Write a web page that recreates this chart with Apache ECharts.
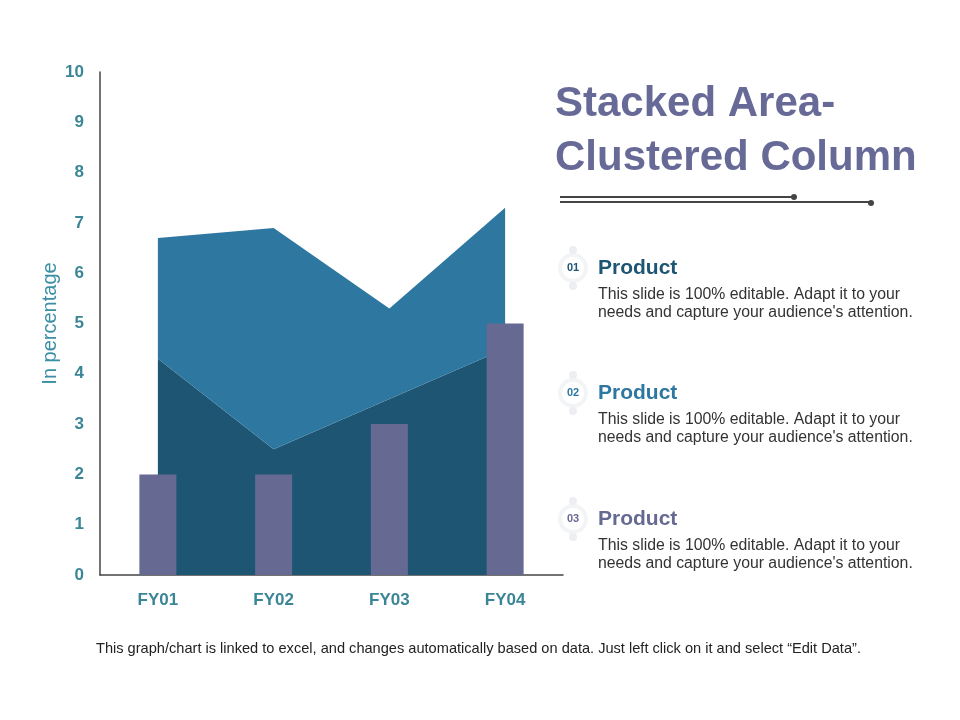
<!DOCTYPE html>
<html>
<head>
<meta charset="utf-8">
<script src="https://cdn.jsdelivr.net/npm/echarts@6/dist/echarts.min.js"></script>
<style>
  html, body { margin: 0; padding: 0; background: #fff; }
  #main { width: 960px; height: 720px; }
</style>
</head>
<body>
<div id="main"></div>
<script>
var categories = ['FY01', 'FY02', 'FY03', 'FY04'];
var areaBottom = [4.3, 2.5, 3.5, 4.5];
var areaTop = [2.4, 4.4, 1.8, 2.8];
var columns = [2, 2, 3, 5];

var items = [
  { num: '01', color: '#1f5574', y: 268 },
  { num: '02', color: '#2e77a0', y: 393 },
  { num: '03', color: '#666a93', y: 519 }
];
var itemText = "This slide is 100% editable. Adapt it to your\nneeds and capture your audience's attention.";

var chart = echarts.init(document.getElementById('main'));

var graphics = [
  {
    type: 'text', left: 555, top: 77,
    style: { text: 'Stacked Area-\nClustered Column', fill: '#676a96', font: 'bold 42px "Liberation Sans", Arial', lineHeight: 54 }
  },
  { type: 'line', shape: { x1: 560, y1: 197, x2: 794, y2: 197 }, style: { stroke: '#444', lineWidth: 2 } },
  { type: 'circle', shape: { cx: 794, cy: 197, r: 3 }, style: { fill: '#444' } },
  { type: 'line', shape: { x1: 560, y1: 202, x2: 871, y2: 202 }, style: { stroke: '#444', lineWidth: 2 } },
  { type: 'circle', shape: { cx: 871, cy: 203, r: 3 }, style: { fill: '#444' } },
  {
    type: 'text', left: 96, top: 641,
    style: { text: 'This graph/chart is linked to excel, and changes automatically based on data. Just left click on it and select \u201cEdit Data\u201d.', fill: '#222', font: '14.6px "Liberation Sans", Arial' }
  }
];

items.forEach(function (it) {
  graphics.push(
    { type: 'circle', shape: { cx: 573, cy: it.y, r: 15 }, style: { fill: '#f3f4f6' } },
    { type: 'circle', shape: { cx: 573, cy: it.y, r: 11 }, style: { fill: '#fff' } },
    { type: 'circle', shape: { cx: 573, cy: it.y - 18, r: 4 }, style: { fill: '#eceef1' } },
    { type: 'circle', shape: { cx: 573, cy: it.y + 18, r: 4 }, style: { fill: '#eceef1' } },
    {
      type: 'text', x: 573, y: it.y,
      style: { text: it.num, fill: it.color, font: 'bold 11px "Liberation Sans"', align: 'center', verticalAlign: 'middle' }
    },
    {
      type: 'text', x: 598, y: it.y,
      style: { text: 'Product', fill: it.color, font: 'bold 21px "Liberation Sans", Arial', verticalAlign: 'middle' }
    },
    {
      type: 'text', x: 598, y: it.y + 18,
      style: { text: itemText, fill: '#333', font: '15.8px "Liberation Sans", Arial', lineHeight: 18 }
    }
  );
});

var option = {
  animation: false,
  grid: { left: 100, right: 397, top: 72, bottom: 145 },
  xAxis: {
    type: 'category',
    data: categories,
    axisLine: { lineStyle: { color: '#444', width: 1.5 } },
    axisTick: { show: false },
    axisLabel: { color: '#3b8696', fontWeight: 'bold', fontSize: 17, margin: 17, fontFamily: 'Liberation Sans' }
  },
  yAxis: {
    type: 'value',
    min: 0,
    max: 10,
    interval: 1,
    name: 'In percentage',
    nameLocation: 'middle',
    nameGap: 40,
    nameTextStyle: { color: '#3a8fa3', fontSize: 20, fontFamily: 'Liberation Sans' },
    axisLine: { show: true, lineStyle: { color: '#444', width: 1.5 } },
    axisTick: { show: false },
    splitLine: { show: false },
    axisLabel: { color: '#3b8696', fontWeight: 'bold', fontSize: 17, margin: 16, fontFamily: 'Liberation Sans' }
  },
  series: [
    {
      type: 'line', stack: 'area', data: areaBottom, symbol: 'none',
      lineStyle: { width: 0 }, areaStyle: { color: '#1e5573', opacity: 1 }, z: 1
    },
    {
      type: 'line', stack: 'area', data: areaTop, symbol: 'none',
      lineStyle: { width: 0 }, areaStyle: { color: '#2e77a0', opacity: 1 }, z: 1
    },
    {
      type: 'bar', data: columns, barWidth: 37,
      itemStyle: { color: '#666a93' }, z: 3
    }
  ],
  graphic: graphics
};

chart.setOption(option);
</script>
</body>
</html>
